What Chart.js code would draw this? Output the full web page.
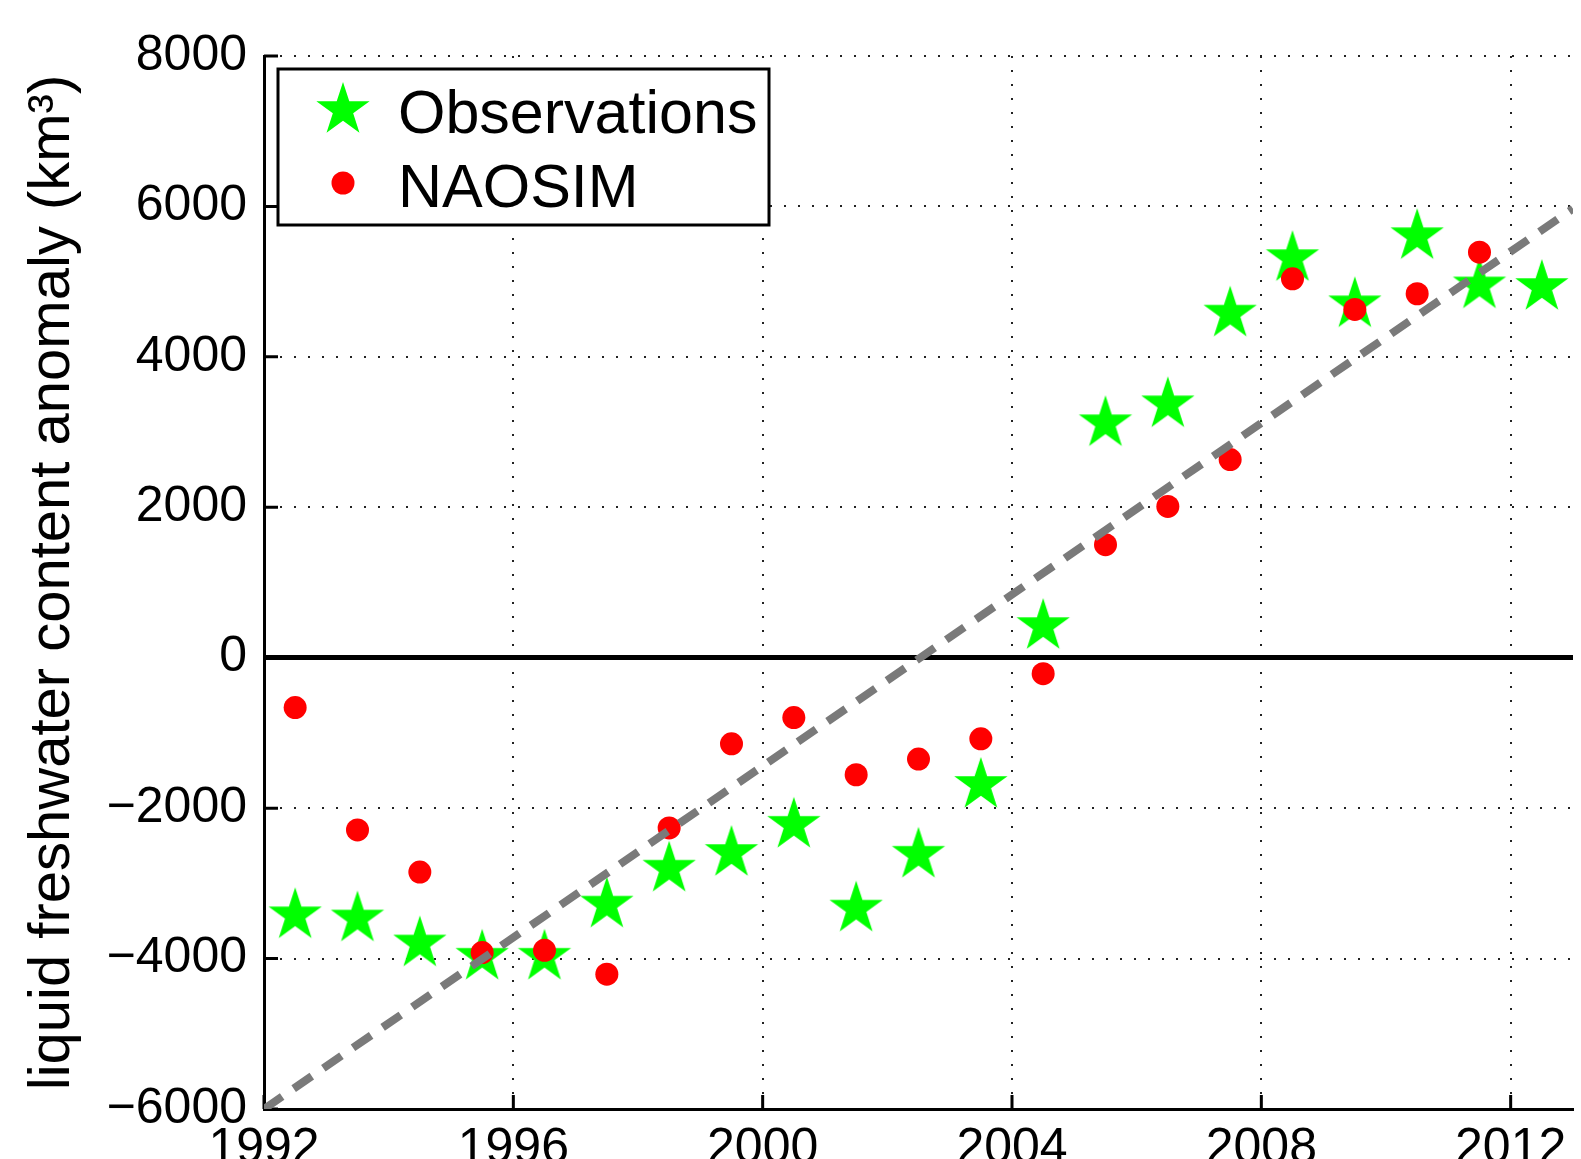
<!DOCTYPE html>
<html>
<head>
<meta charset="utf-8">
<script src="https://cdn.jsdelivr.net/npm/chart.js@4.4.1/dist/chart.umd.min.js"></script>
<style>
  body { margin: 0; background: #fff; }
  #frame { width: 1581px; height: 1159px; overflow: hidden; position: relative; }
  #wrap { width: 1581px; height: 1189px; position: absolute; left: 0; top: 0; }
</style>
</head>
<body>
<div id="frame"><div id="wrap"><canvas id="fwChart"></canvas></div></div>
<script>
// values (km3), mid-year points
const years = [1992.5, 1993.5, 1994.5, 1995.5, 1996.5, 1997.5, 1998.5, 1999.5, 2000.5, 2001.5,
               2002.5, 2003.5, 2004.5, 2005.5, 2006.5, 2007.5, 2008.5, 2009.5, 2010.5, 2011.5, 2012.5];
const observations = [-3425, -3468, -3800, -3976, -3976, -3283, -2805, -2597, -2222, -3336,
                      -2620, -1692, 420, 3117, 3369, 4574, 5312, 4698, 5604, 4949, 4928];
const naosim = [-663, -2289, -2850, -3920, -3890, -4207, -2263, -1145, -795, -1556,
                -1348, -1078, -212, 1502, 2011, 2634, 5038, 4631, 4839, 5392];
// linear trend (grey dashed)
const trendYears = [1992, 2013];
const trendValues = [-6000, 5970];
// axes
const xTicks = [1992, 1996, 2000, 2004, 2008, 2012];
const yTicks = [-6000, -4000, -2000, 0, 2000, 4000, 6000, 8000];

const FONT = "'Liberation Sans', Arial, Helvetica, sans-serif";

// filled five-point star used as the point style
function makeStar(r, color) {
    const c = document.createElement('canvas');
    const s = Math.ceil(r * 2 + 4);
    c.width = s; c.height = s;
    const g = c.getContext('2d');
    g.translate(s / 2, s / 2);
    g.beginPath();
    for (let i = 0; i < 10; i++) {
        const rad = i % 2 === 0 ? r : r * 0.382;
        const a = -Math.PI / 2 + i * Math.PI / 5;
        g.lineTo(rad * Math.cos(a), rad * Math.sin(a));
    }
    g.closePath();
    g.fillStyle = color;
    g.fill();
    return c;
}
const star = makeStar(28, '#00ff00');

const toPoints = (xs, ys) => ys.map((v, i) => ({ x: xs[i], y: v }));
const minus = v => String(v).replace('-', '\u2212');

// MATLAB style inward tick marks
const innerTicks = {
    id: 'innerTicks',
    beforeDatasetsDraw(chart) {
        const { ctx, chartArea: a, scales: { x, y } } = chart;
        ctx.save();
        ctx.strokeStyle = '#000';
        ctx.lineWidth = 3;
        ctx.beginPath();
        xTicks.forEach(t => {
            const px = x.getPixelForValue(t);
            ctx.moveTo(px, a.bottom); ctx.lineTo(px, a.bottom - 14);
        });
        yTicks.forEach(t => {
            const py = y.getPixelForValue(t);
            ctx.moveTo(a.left, py); ctx.lineTo(a.left + 14, py);
        });
        ctx.stroke();
        ctx.restore();
    }
};

// boxed legend inside the plot
const boxLegend = {
    id: 'boxLegend',
    afterDraw(chart) {
        const ctx = chart.ctx;
        ctx.save();
        ctx.fillStyle = '#fff';
        ctx.fillRect(278, 69, 491, 156);
        ctx.strokeStyle = '#000';
        ctx.lineWidth = 3;
        ctx.strokeRect(278, 69, 491, 156);
        ctx.drawImage(star, 343 - star.width / 2, 110 - star.height / 2);
        ctx.fillStyle = '#ff0000';
        ctx.beginPath();
        ctx.arc(343, 183, 11.5, 0, Math.PI * 2);
        ctx.fill();
        ctx.fillStyle = '#000';
        ctx.font = '61px ' + FONT;
        ctx.textBaseline = 'alphabetic';
        ctx.fillText('Observations', 398, 133);
        ctx.fillText('NAOSIM', 398, 207);
        ctx.restore();
    }
};

const isZero = c => c.type === 'tick' && c.tick && c.tick.value === 0;

new Chart(document.getElementById('fwChart'), {
    type: 'scatter',
    data: {
        datasets: [
            {
                label: 'trend',
                data: toPoints(trendYears, trendValues),
                showLine: true,
                borderColor: '#7a7a7a',
                borderWidth: 8,
                borderDash: [22, 14],
                pointRadius: 0,
                order: 0
            },
            {
                label: 'NAOSIM',
                data: toPoints(years, naosim),
                pointStyle: 'circle',
                pointRadius: 11.5,
                backgroundColor: '#ff0000',
                borderWidth: 0,
                order: 1
            },
            {
                label: 'Observations',
                data: toPoints(years, observations),
                pointStyle: star,
                pointRadius: 28,
                order: 2
            }
        ]
    },
    options: {
        responsive: true,
        maintainAspectRatio: false,
        animation: false,
        layout: { autoPadding: false, padding: { top: 56, right: 8, left: 0, bottom: 0 } },
        plugins: {
            legend: { display: false },
            tooltip: { enabled: false }
        },
        scales: {
            x: {
                type: 'linear',
                min: 1992,
                max: 2013,
                afterBuildTicks: s => { s.ticks = xTicks.map(v => ({ value: v })); },
                afterFit: s => { s.paddingLeft = 0; s.paddingRight = 0; },
                ticks: {
                    callback: v => String(v),
                    color: '#000',
                    font: { family: FONT, size: 50 },
                    padding: 10,
                    maxRotation: 0,
                    autoSkip: false
                },
                grid: { color: '#222', lineWidth: 2, drawTicks: false },
                border: { display: true, color: '#000', width: 3, dash: c => c.type === 'tick' ? [2, 12] : [] }
            },
            y: {
                min: -6000,
                max: 8000,
                afterBuildTicks: s => { s.ticks = yTicks.map(v => ({ value: v })); },
                afterFit: s => { s.width = 264; },
                ticks: {
                    callback: v => minus(v),
                    color: '#000',
                    font: { family: FONT, size: 50 },
                    padding: 17
                },
                grid: {
                    color: c => isZero(c) ? '#000' : '#222',
                    lineWidth: c => isZero(c) ? 5 : 2,
                    drawTicks: false
                },
                border: {
                    display: true, color: '#000', width: 3,
                    dash: c => c.type === 'tick' ? (isZero(c) ? [] : [2, 12]) : []
                },
                title: {
                    display: true,
                    text: 'liquid freshwater content anomaly (km\u00b3)',
                    color: '#000',
                    font: { family: FONT, size: 58 },
                    padding: { top: 18, bottom: 0 }
                }
            }
        }
    },
    plugins: [innerTicks, boxLegend]
});
</script>
</body>
</html>
